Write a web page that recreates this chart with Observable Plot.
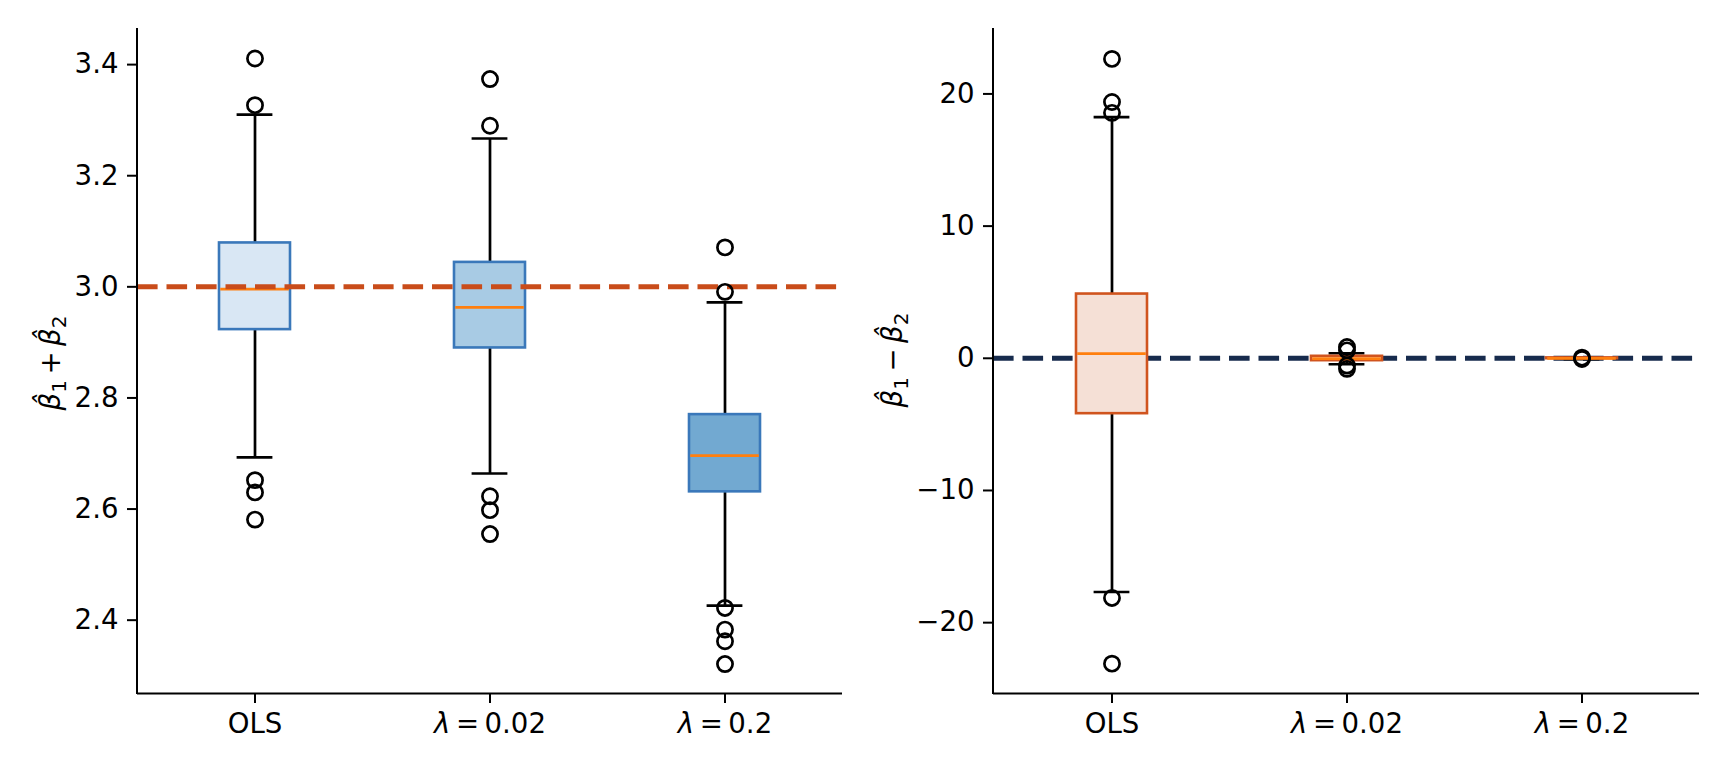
<!DOCTYPE html>
<html><head><meta charset="utf-8">
<script src="https://cdn.jsdelivr.net/npm/d3@7"></script>
<script src="https://cdn.jsdelivr.net/npm/@observablehq/plot@0.6"></script>
<style>
body{margin:0;background:#fff;}
#wrap{display:flex;width:1728px;height:768px;}
#wrap svg{display:block;}
</style></head><body><div id="wrap"></div>
<script>
const categories = ["OLS", "λ = 0.02", "λ = 0.2"];

// Left panel: beta1_hat + beta2_hat
const sumQ1 = [2.923, 2.890, 2.631];
const sumMedian = [2.996, 2.963, 2.696];
const sumQ3 = [3.079, 3.044, 2.770];
const sumWhiskerLow = [2.693, 2.664, 2.426];
const sumWhiskerHigh = [3.310, 3.267, 2.972];
const sumOutliers = [
  [3.411, 3.327, 2.652, 2.630, 2.581],
  [3.374, 3.290, 2.623, 2.598, 2.555],
  [3.071, 2.991, 2.422, 2.383, 2.362, 2.321]
];
const sumTicks = [2.4, 2.6, 2.8, 3.0, 3.2, 3.4];
const sumTrue = 3.0;

// Right panel: beta1_hat - beta2_hat
const diffQ1 = [-4.19, -0.18, -0.03];
const diffMedian = [0.36, -0.02, 0.0];
const diffQ3 = [4.86, 0.15, 0.03];
const diffWhiskerLow = [-17.68, -0.45, -0.06];
const diffWhiskerHigh = [18.24, 0.38, 0.06];
const diffOutliers = [
  [22.65, 19.39, 18.57, -18.13, -23.10],
  [0.85, 0.60, -0.55, -0.80],
  [0.05, -0.05]
];
const diffTicks = [-20, -10, 0, 10, 20];
const diffTrue = 0;

const ns = "http://www.w3.org/2000/svg";
const W = 864, H = 768, MT = 28, MB = 75;

function panel(cfg) {
  const rows = categories.map((c, i) => ({
    cat: c, q1: cfg.q1[i], med: cfg.med[i], q3: cfg.q3[i], lo: cfg.lo[i], hi: cfg.hi[i], fill: cfg.fills[i]
  }));
  const pts = categories.flatMap((c, i) => cfg.out[i].map(v => ({cat: c, v})));
  const ref = Plot.ruleY([cfg.ref], {stroke: cfg.refColor, strokeWidth: 5, strokeDasharray: "20.6,8.9"});
  const marks = [];
  if (!cfg.refOnTop) marks.push(ref);
  marks.push(
    Plot.ruleX(rows, {x: "cat", y1: "q3", y2: "hi", stroke: "black", strokeWidth: 2.7}),
    Plot.ruleX(rows, {x: "cat", y1: "lo", y2: "q1", stroke: "black", strokeWidth: 2.7}),
    Plot.tickY(rows, {x: "cat", y: "hi", stroke: "black", strokeWidth: 2.7, insetLeft: 17.6, insetRight: 17.6}),
    Plot.tickY(rows, {x: "cat", y: "lo", stroke: "black", strokeWidth: 2.7, insetLeft: 17.6, insetRight: 17.6}),
    Plot.barY(rows, {x: "cat", y1: "q1", y2: "q3", fill: "fill", stroke: cfg.edge, strokeWidth: 2.6}),
    Plot.tickY(rows, {x: "cat", y: "med", stroke: "#ff7f0e", strokeWidth: 2.7, insetLeft: 1.2, insetRight: 1.2})
  );
  if (cfg.refOnTop) marks.push(ref);
  marks.push(
    Plot.dot(pts, {x: "cat", y: "v", r: 7.6, stroke: "black", strokeWidth: 2.7, fill: "none"}),
    Plot.ruleY([cfg.domain[0]], {stroke: "black", strokeWidth: 2}),
    Plot.axisX({tickSize: 10, tickPadding: 10, strokeWidth: 2, label: null}),
    Plot.axisY({ticks: cfg.ticks, tickSize: 10, tickPadding: 9, strokeWidth: 2, label: null, tickFormat: cfg.fmt})
  );
  const svg = Plot.plot({
    width: W, height: H,
    marginLeft: cfg.ml, marginRight: cfg.mr, marginTop: MT, marginBottom: MB,
    style: {fontFamily: "DejaVu Sans", fontSize: "27.6px", color: "black", background: "white", overflow: "visible"},
    x: {type: "band", domain: categories, paddingInner: 0.7, paddingOuter: 0.35},
    y: {domain: cfg.domain},
    color: {type: "identity"},
    marks
  });
  // left spine
  const sp = document.createElementNS(ns, "line");
  sp.setAttribute("x1", cfg.ml); sp.setAttribute("x2", cfg.ml);
  sp.setAttribute("y1", MT); sp.setAttribute("y2", H - MB + 1);
  sp.setAttribute("stroke", "black"); sp.setAttribute("stroke-width", 2);
  svg.appendChild(sp);
  // italic lambda in tick labels
  svg.querySelectorAll('[aria-label="x-axis tick label"] text').forEach(t => {
    const s = t.textContent;
    if (s.startsWith("λ")) {
      t.textContent = "";
      const a = document.createElementNS(ns, "tspan");
      a.setAttribute("font-style", "italic"); a.textContent = "λ";
      const b = document.createElementNS(ns, "tspan");
      b.textContent = s.slice(1).replace(/ = /, "\u2009=\u2009");
      t.appendChild(a); t.appendChild(b);
    }
  });
  // y label
  const lab = document.createElementNS(ns, "text");
  lab.setAttribute("transform", `translate(${cfg.lx},${cfg.ly}) rotate(-90)`);
  lab.setAttribute("text-anchor", "middle");
  lab.setAttribute("fill", "black");
  const parts = [
    ["β\u0302", "it"], ["1", "sub"], ["\u2009" + cfg.op + "\u2009", "n"], ["β\u0302", "it"], ["2", "sub"]
  ];
  let shifted = false;
  parts.forEach(([txt, kind]) => {
    const ts = document.createElementNS(ns, "tspan");
    ts.textContent = txt;
    if (kind === "it") ts.setAttribute("font-style", "italic");
    if (kind === "sub") { ts.setAttribute("font-size", "20px"); ts.setAttribute("dy", "6"); shifted = true; }
    else if (shifted) { ts.setAttribute("dy", "-6"); shifted = false; }
    lab.appendChild(ts);
  });
  svg.appendChild(lab);
  return svg;
}

const left = panel({
  q1: sumQ1, med: sumMedian, q3: sumQ3, lo: sumWhiskerLow, hi: sumWhiskerHigh, out: sumOutliers,
  ticks: sumTicks, domain: [2.268, 3.465], fmt: d3.format(".1f"),
  fills: ["#d9e7f4", "#a8cbe4", "#72a9d1"], edge: "#3a78ba",
  ref: sumTrue, refColor: "#c94c1a", refOnTop: true,
  ml: 137, mr: 22, lx: 60, ly: 363, op: "+"
});
const right = panel({
  q1: diffQ1, med: diffMedian, q3: diffQ3, lo: diffWhiskerLow, hi: diffWhiskerHigh, out: diffOutliers,
  ticks: diffTicks, domain: [-25.36, 24.95], fmt: d3.format("d"),
  fills: ["#f5e0d6", "#f5e0d6", "#f5e0d6"], edge: "#d0541e",
  ref: diffTrue, refColor: "#172b4d", refOnTop: false,
  ml: 129, mr: 29, lx: 38, ly: 360, op: "\u2212"
});
document.getElementById("wrap").append(left, right);
</script>
</body></html>
